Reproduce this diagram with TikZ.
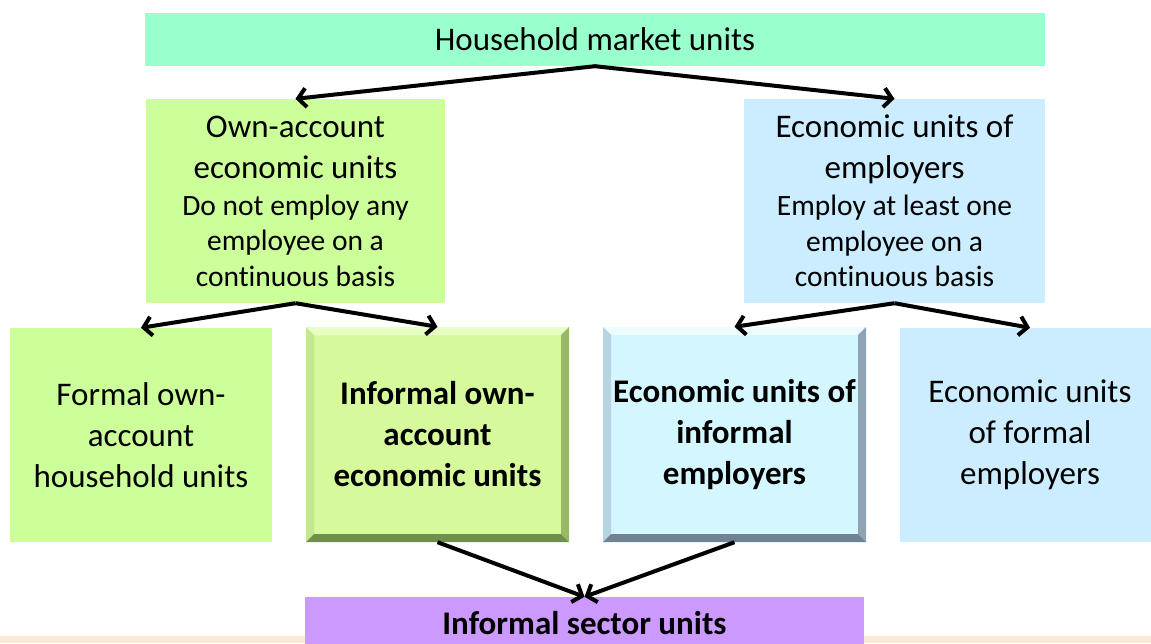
\documentclass[tikz,border=0pt]{standalone}
\usepackage{fontspec}
\setmainfont[RawFeature={-liga;-clig;-calt;-dlig}]{Carlito}
\usepackage{tikz}
\usetikzlibrary{arrows.meta}

\definecolor{mintgreen}{HTML}{99FFCC}
\definecolor{limegreen}{HTML}{CCFF99}
\definecolor{skyblue}{HTML}{CCECFF}
\definecolor{lilac}{HTML}{CC99FF}
\definecolor{footerbeige}{HTML}{FDE8D6}
% bevelled boxes: inner, top, left, right, bottom
\definecolor{gin}{HTML}{D5F99B}
\definecolor{gtop}{HTML}{E8FFC4}
\definecolor{gleft}{HTML}{C2EA8A}
\definecolor{gright}{HTML}{98B868}
\definecolor{gbot}{HTML}{6F8F4C}
\definecolor{bin}{HTML}{D4F6FF}
\definecolor{btop}{HTML}{EDFCFF}
\definecolor{bleft}{HTML}{B6D4E2}
\definecolor{bright}{HTML}{8EA4B4}
\definecolor{bbot}{HTML}{6E8494}

\newcommand{\smalltxt}{\fontsize{29.5}{35.5}\selectfont}

\tikzset{
  bevel/.style n args={5}{fill=#1, path picture={
      \fill[#2] (path picture bounding box.north west) -- (path picture bounding box.north east)
        -- ([shift={(-8pt,-8pt)}]path picture bounding box.north east)
        -- ([shift={(8pt,-8pt)}]path picture bounding box.north west) -- cycle;
      \fill[#3] (path picture bounding box.north west) -- ([shift={(8pt,-8pt)}]path picture bounding box.north west)
        -- ([shift={(8pt,8pt)}]path picture bounding box.south west)
        -- (path picture bounding box.south west) -- cycle;
      \fill[#4] (path picture bounding box.north east) -- (path picture bounding box.south east)
        -- ([shift={(-8pt,8pt)}]path picture bounding box.south east)
        -- ([shift={(-8pt,-8pt)}]path picture bounding box.north east) -- cycle;
      \fill[#5] (path picture bounding box.south west) -- (path picture bounding box.south east)
        -- ([shift={(-8pt,8pt)}]path picture bounding box.south east)
        -- ([shift={(8pt,8pt)}]path picture bounding box.south west) -- cycle;
    }}
}

\begin{document}
\begin{tikzpicture}[x=1pt,y=-1pt]
	\tikzstyle{unit}=[rectangle,inner sep=0pt,align=center,font=\fontsize{33}{41}\selectfont]
	\tikzstyle{keyunit}=[unit,font=\fontsize{33}{41}\selectfont\bfseries]
	\tikzstyle{link}=[line width=4pt,-{Straight Barb[length=8pt,width=19pt]}]
	\useasboundingbox (0,0) rectangle (1151,643);
	\clip (0,0) rectangle (1151,643);
	\fill[footerbeige] (0,636) rectangle (1151,643);
	% top level
	\node[unit,fill=mintgreen,minimum width=900pt,minimum height=53pt](hmu) at (595,39.5) {Household market units};
	% second level
	\node[unit,fill=limegreen,minimum width=299pt,minimum height=204pt](own) at (295.5,201)
		{Own-account\\economic units\\[-4pt]{\smalltxt Do not employ any}\\[-5.5pt]{\smalltxt employee on a}\\[-5.5pt]{\smalltxt continuous basis}};
	\node[unit,fill=skyblue,minimum width=301pt,minimum height=204pt](emp) at (894.5,201)
		{Economic units of\\employers\\[-4pt]{\smalltxt Employ at least one}\\[-5.5pt]{\smalltxt employee on a}\\[-5.5pt]{\smalltxt continuous basis}};
	% third level
	\node[unit,fill=limegreen,minimum width=262pt,minimum height=214pt](fown) at (141,435) {Formal own-\\account\\household units};
	\node[keyunit,bevel={gin}{gtop}{gleft}{gright}{gbot},minimum width=263pt,minimum height=215pt](iown) at (437.5,434.5) {Informal own-\\account\\economic units};
	\node[keyunit,bevel={bin}{btop}{bleft}{bright}{bbot},minimum width=263pt,minimum height=215pt](iemp) at (734.5,434.5) {Economic units of\\informal\\employers};
	\node[unit,fill=skyblue,minimum width=260pt,minimum height=214pt](femp) at (1030,435) {Economic units\\of formal\\employers};
	% bottom
	\node[keyunit,fill=lilac,minimum width=559pt,minimum height=53pt](isu) at (584.5,623.5) {Informal sector units};
	\draw[link] (hmu.south) -- (own.north);
	\draw[link] (hmu.south) -- (emp.north);
	\draw[link] (own.south) -- (fown.north);
	\draw[link] (own.south) -- (iown.north);
	\draw[link] (emp.south) -- (iemp.north);
	\draw[link] (emp.south) -- (femp.north);
	\draw[link] (iown.south) -- (isu.north);
	\draw[link] (iemp.south) -- (isu.north);
\end{tikzpicture}
\end{document}
